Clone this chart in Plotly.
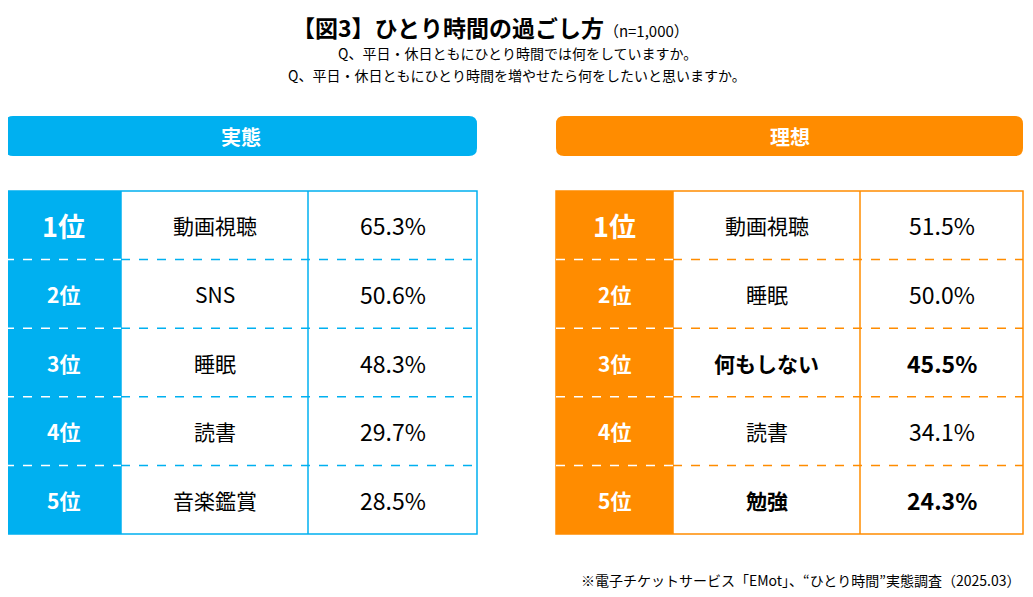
import plotly.graph_objects as go

ranks = ["1位", "2位", "3位", "4位", "5位"]
actual_items = ["動画視聴", "SNS", "睡眠", "読書", "音楽鑑賞"]
actual_values = [65.3, 50.6, 48.3, 29.7, 28.5]
ideal_items = ["動画視聴", "睡眠", "何もしない", "読書", "勉強"]
ideal_values = [51.5, 50.0, 45.5, 34.1, 24.3]
ideal_bold = [False, False, True, False, True]

W, H = 1033, 597
OFF = 8  # page body margin
FONT = "Noto Sans CJK JP"
BLUE = "#00B0F0"
ORANGE = "#FF8C00"

fig = go.Figure()
shapes = []
ann = []


def panel(x0, xs, color, title, items, values, bold):
    x_end = xs[-1]
    shapes.append(dict(type="path", fillcolor=color, line=dict(width=0),
                       path=f"M {x0+8},116 L {x_end-8},116 Q {x_end},116 {x_end},124 L {x_end},148 Q {x_end},156 {x_end-8},156 "
                            f"L {x0+8},156 Q {x0},156 {x0},148 L {x0},124 Q {x0},116 {x0+8},116 Z"))
    ann.append(dict(x=(x0 + x_end) / 2, y=136, text=f"<b>{title}</b>", font=dict(size=20, color="white", family=FONT)))
    top, rh = 191, 68.6
    bottom = top + rh * len(items)
    shapes.append(dict(type="rect", x0=x0, x1=xs[1], y0=top, y1=bottom, fillcolor=color, line=dict(width=0)))
    shapes.append(dict(type="rect", x0=x0, x1=x_end, y0=top, y1=bottom, line=dict(color=color, width=1.5)))
    for xv in xs[1:-1]:
        shapes.append(dict(type="line", x0=xv, x1=xv, y0=top, y1=bottom, line=dict(color=color, width=1.5)))
    for i in range(1, len(items)):
        y = top + rh * i
        shapes.append(dict(type="line", x0=x0, x1=xs[1], y0=y, y1=y, line=dict(color="white", width=1.5, dash="dash")))
        shapes.append(dict(type="line", x0=xs[1], x1=x_end, y0=y, y1=y, line=dict(color=color, width=1.5, dash="dash")))
    for i, (r, it, v) in enumerate(zip(ranks, items, values)):
        yc = top + rh * (i + 0.5)
        ann.append(dict(x=(xs[0] + xs[1]) / 2, y=yc, text=f"<b>{r}</b>",
                        font=dict(size=27 if i == 0 else 21, color="white", family=FONT)))
        b = bold[i]
        t1 = f"<b>{it}</b>" if b else it
        t2 = f"<b>{v:.1f}%</b>" if b else f"{v:.1f}%"
        ann.append(dict(x=(xs[1] + xs[2]) / 2, y=yc, text=t1, font=dict(size=21, color="black", family=FONT)))
        ann.append(dict(x=(xs[2] + xs[3]) / 2, y=yc, text=t2, font=dict(size=23, color="black", family=FONT)))


panel(5, [5, 121, 308, 477], BLUE, "実態", actual_items, actual_values, [False] * 5)
panel(556, [556, 673, 860, 1023], ORANGE, "理想", ideal_items, ideal_values, ideal_bold)

ann.append(dict(x=490, y=27, text="<b>【図3】ひとり時間の過ごし方</b><span style='font-size:15px'>（n=1,000）</span>",
                font=dict(size=23, color="black", family=FONT)))
ann.append(dict(x=517, y=53, text="Q、平日・休日ともにひとり時間では何をしていますか。",
                font=dict(size=14, color="black", family=FONT)))
ann.append(dict(x=517, y=75, text="Q、平日・休日ともにひとり時間を増やせたら何をしたいと思いますか。",
                font=dict(size=14, color="black", family=FONT)))
ann.append(dict(x=1022, y=580, xanchor="right", text="※電子チケットサービス「EMot」、“ひとり時間”実態調査（2025.03）",
                font=dict(size=14, color="black", family=FONT)))

for a in ann:
    a.update(xref="x", yref="y", showarrow=False)

fig.update_layout(width=W - 2 * OFF, height=H - 2 * OFF, margin=dict(l=0, r=0, t=0, b=0),
                  paper_bgcolor="white", plot_bgcolor="white",
                  xaxis=dict(range=[OFF, W - OFF], visible=False, fixedrange=True),
                  yaxis=dict(range=[H - OFF, OFF], visible=False, fixedrange=True),
                  shapes=shapes, annotations=ann, showlegend=False)
fig.write_html("out.html")
